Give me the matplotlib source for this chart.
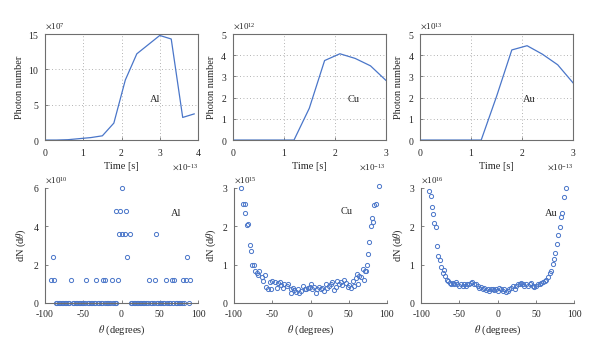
import matplotlib
matplotlib.use("Agg")
import matplotlib.pyplot as plt
from matplotlib.ticker import ScalarFormatter

plt.rcParams['font.family'] = ['Liberation Serif', 'DejaVu Serif']
plt.rcParams['mathtext.fontset'] = 'stix'
plt.rcParams['axes.unicode_minus'] = False

# ---------------- data ----------------
# top row: photon number vs time (s)
t_al = [0, 0.3e-13, 0.6e-13, 0.9e-13, 1.2e-13, 1.5e-13, 1.8e-13, 2.1e-13, 2.4e-13,
        2.7e-13, 3.0e-13, 3.3e-13, 3.6e-13, 3.9e-13]
n_al = [0, 0, 0.05e7, 0.2e7, 0.35e7, 0.6e7, 2.4e7, 8.5e7, 12.2e7, 13.5e7, 14.8e7,
        14.3e7, 3.2e7, 3.7e7]

t_cu = [0, 0.3e-13, 0.6e-13, 0.9e-13, 1.2e-13, 1.5e-13, 1.8e-13, 2.1e-13, 2.4e-13,
        2.7e-13, 3.0e-13]
n_cu = [0, 0, 0, 0, 0, 1.5e12, 3.75e12, 4.07e12, 3.85e12, 3.5e12, 2.82e12]

t_au = [0, 0.3e-13, 0.6e-13, 0.9e-13, 1.2e-13, 1.5e-13, 1.8e-13, 2.1e-13, 2.4e-13,
        2.7e-13, 3.0e-13]
n_au = [0, 0, 0, 0, 0, 2.05e13, 4.25e13, 4.45e13, 4.05e13, 3.55e13, 2.7e13]

# bottom row: angular distribution dN(dtheta)
th_al = [-92, -88, -90, -66, -46, -33, -24, -21, -13, -5, -7.5, -2, 0, -3.5, 1.3, 4,
         5.7, 7.5, 11.5, 36.5, 44, 45, 58, 66, 69, 80, 84, 86, 90,
         -86, -84, -82, -80, -78, -76, -74, -72, -70, -68, -64, -62, -60, -58, -56,
         -54, -52, -50, -48, -44, -42, -40, -38, -36, -34, -31, -29, -27, -25, -22,
         -19, -17, -15, -11, -9, -7, 12, 14, 16, 18, 20, 22, 24, 26, 28, 30, 32, 34,
         38, 40, 42, 46, 48, 50, 52, 54, 56, 60, 62, 64, 67, 71, 73, 75, 77, 79, 82, 88]
dn_al = [1.2, 1.2, 2.4, 1.2, 1.2, 1.2, 1.2, 1.2, 1.2, 1.2, 4.8, 4.8, 6.0, 3.6, 3.6, 3.6,
         4.8, 2.4, 3.6, 1.2, 1.2, 3.6, 1.2, 1.2, 1.2, 1.2, 1.2, 2.4, 1.2,
         0, 0, 0, 0, 0, 0, 0, 0, 0, 0, 0, 0, 0, 0, 0,
         0, 0, 0, 0, 0, 0, 0, 0, 0, 0, 0, 0, 0, 0, 0,
         0, 0, 0, 0, 0, 0, 0, 0, 0, 0, 0, 0, 0, 0, 0, 0, 0, 0,
         0, 0, 0, 0, 0, 0, 0, 0, 0, 0, 0, 0, 0, 0, 0, 0, 0, 0, 0, 0]
dn_al = [v * 1e10 for v in dn_al]

th_cu = [-90.3, -88, -86, -85, -83, -81.5, -79, -78, -76, -73.5, -72.7, -70.5, -68, -67,
         -64, -62, -59.5, -58, -56, -53, -50, -51, -44, -46, -43, -40, -38, -36.6, -34,
         -31, -29, -26, -25, -23, -21, -19, -16, -14.5, -12, -10, -7.5, -5.7, -3, -1.3,
         0, 2.2, 4.4, 6.6, 8.8, 11, 13.2, 15.4, 17.6, 19.8, 22, 24, 26.4, 28.6, 30.8, 33,
         35, 37.4, 39.6, 41.8, 44, 46, 48.5, 50.7, 52.9, 55, 57, 59.5, 60.8, 62.6, 64, 66,
         68, 69.6, 71.4, 72.7, 74, 75.8, 77, 79, 80.6, 81.5, 82.8, 85, 89]
dn_cu = [3.0, 2.57, 2.59, 2.33, 2.02, 2.06, 1.51, 1.34, 0.99, 0.99, 0.83, 0.77, 0.72, 0.83,
         0.68, 0.57, 0.72, 0.42, 0.35, 0.55, 0.57, 0.37, 0.39, 0.55, 0.51, 0.55, 0.46, 0.39,
         0.48, 0.44, 0.48, 0.26, 0.37, 0.39, 0.33, 0.28, 0.37, 0.25, 0.31, 0.44, 0.37, 0.35,
         0.39, 0.42, 0.48, 0.37, 0.42, 0.26, 0.37, 0.42, 0.35, 0.39, 0.31, 0.48, 0.39, 0.44,
         0.48, 0.54, 0.33, 0.42, 0.57, 0.48, 0.54, 0.46, 0.61, 0.51, 0.42, 0.46, 0.39, 0.57,
         0.44, 0.66, 0.76, 0.48, 0.70, 0.68, 0.89, 0.61, 0.83, 0.83, 0.98, 1.27, 1.6, 2.0,
         2.2, 2.1, 2.56, 2.59, 3.05]
dn_cu = [v * 1e15 for v in dn_cu]

th_au = [-90, -87.7, -86.4, -84, -83, -81, -79, -77.6, -75.4, -74, -72, -70, -69,
         -66.7, -65, -63, -61, -59, -57, -55, -52.6, -50.4, -48, -46, -44, -41.7, -39.5,
         -37, -35, -33, -30.7, -28.5, -26, -24, -22, -19.7, -17.5, -15.4, -13, -11, -8.8,
         -6.6, -4.4, -2.2, 0, 2.2, 4.4, 6.6, 8.8, 11, 13, 15.4, 17.5, 19.7, 22, 24, 26,
         28.5, 30.7, 33, 35, 37, 39.5, 41.7, 44, 46, 48, 50, 52.6, 55, 57, 59, 61.4, 63.6,
         65.8, 68, 70, 72.4, 73.7, 75.4, 77, 79, 81, 82.5, 84, 86.4, 89.5]
dn_au = [2.92, 2.78, 2.49, 2.32, 2.07, 1.97, 1.49, 1.23, 1.11, 0.93, 0.78, 0.86, 0.69,
         0.61, 0.56, 0.52, 0.50, 0.52, 0.48, 0.54, 0.48, 0.43, 0.48, 0.45, 0.48, 0.45, 0.48,
         0.50, 0.52, 0.54, 0.50, 0.48, 0.43, 0.39, 0.41, 0.36, 0.39, 0.33, 0.36, 0.30, 0.35,
         0.36, 0.33, 0.36, 0.30, 0.39, 0.35, 0.30, 0.36, 0.28, 0.30, 0.36, 0.39, 0.43, 0.36,
         0.43, 0.48, 0.50, 0.52, 0.48, 0.43, 0.48, 0.45, 0.50, 0.52, 0.45, 0.41, 0.45, 0.48,
         0.50, 0.52, 0.54, 0.56, 0.61, 0.67, 0.78, 0.82, 1.02, 1.14, 1.30, 1.54, 1.77, 1.97,
         2.23, 2.35, 2.75, 3.0]
dn_au = [v * 1e16 for v in dn_au]

labels = ["Al", "Cu", "Au"]

# ---------------- style ----------------
BLUE = '#4a76c9'
SPINE = '#6e6e6e'
TXT = '#262626'
FS = 7

fig = plt.figure(figsize=(6.0, 3.51), dpi=100)


def fmt(ax, axis, order):
    f = ScalarFormatter(useMathText=True)
    f.set_powerlimits((order, order))
    getattr(ax, axis).set_major_formatter(f)


def style(ax, box):
    for s in ax.spines.values():
        s.set_color(SPINE)
        s.set_linewidth(0.8)
    if not box:
        ax.spines['top'].set_visible(False)
        ax.spines['right'].set_visible(False)
    ax.tick_params(direction='in', length=2.5, width=0.6, colors=SPINE,
                   labelcolor=TXT, labelsize=FS, top=False, right=False)
    ax.tick_params(axis='x', pad=5)
    ax.tick_params(axis='y', pad=4)
    for a in (ax.xaxis, ax.yaxis):
        a.get_offset_text().set_fontsize(FS - 0.5)
        a.get_offset_text().set_color(TXT)


# top row
top_left = [0.075, 0.388, 0.700]
top_data = [(t_al, n_al, 4e-13, 15e7, [0, 5e7, 10e7, 15e7], [0, 1e-13, 2e-13, 3e-13, 4e-13],
             (2.87e-13, 5.7e7), 7),
            (t_cu, n_cu, 3e-13, 5e12, [0, 1e12, 2e12, 3e12, 4e12, 5e12],
             [0, 1e-13, 2e-13, 3e-13], (2.37e-13, 1.9e12), 12),
            (t_au, n_au, 3e-13, 5e13, [0, 1e13, 2e13, 3e13, 4e13, 5e13],
             [0, 1e-13, 2e-13, 3e-13], (2.14e-13, 1.9e13), 13)]
for left, (t, n, xmax, ymax, yt, xt, lp, yo), lab in zip(top_left, top_data, labels):
    ax = fig.add_axes([left, 0.601, 0.255, 0.302])
    ax.plot(t, n, color=BLUE, lw=0.9)
    ax.set_xlim(0, xmax)
    ax.set_ylim(0, ymax)
    ax.set_xticks(xt)
    ax.set_yticks(yt)
    fmt(ax, 'xaxis', -13)
    fmt(ax, 'yaxis', yo)
    ax.grid(True, linestyle=(0, (1, 3)), color='#9a9a9a', lw=0.6)
    style(ax, True)
    ax.set_xlabel("Time [s]", fontsize=FS + 0.5, color=TXT, labelpad=3)
    ax.set_ylabel("Photon number", fontsize=FS + 0.5, color=TXT, labelpad=3)
    ax.text(lp[0], lp[1], lab, fontsize=FS + 0.5, color=TXT, ha='center', va='center')

# bottom row
bot_left = [0.075, 0.390, 0.702]
bot_data = [(th_al, dn_al, 6e10, [0, 2e10, 4e10, 6e10], (71, 4.65e10), 10),
            (th_cu, dn_cu, 3e15, [0, 1e15, 2e15, 3e15], (47, 2.37e15), 15),
            (th_au, dn_au, 3e16, [0, 1e16, 2e16, 3e16], (70, 2.33e16), 16)]
for left, (th, dn, ymax, yt, lp, yo), lab in zip(bot_left, bot_data, labels):
    ax = fig.add_axes([left, 0.137, 0.255, 0.328])
    ax.plot(th, dn, linestyle='none', marker='o', markersize=3.0, markerfacecolor='none',
            markeredgecolor=BLUE, markeredgewidth=0.7, clip_on=False)
    ax.set_xlim(-100, 100)
    ax.set_ylim(0, ymax)
    ax.set_xticks([-100, -50, 0, 50, 100])
    ax.set_yticks(yt)
    fmt(ax, 'yaxis', yo)
    style(ax, False)
    ax.set_xlabel(r"$\theta$ (degrees)", fontsize=FS + 0.5, color=TXT, labelpad=3)
    ax.set_ylabel(r"dN (d$\theta$)", fontsize=FS + 0.5, color=TXT, labelpad=3)
    ax.text(lp[0], lp[1], lab, fontsize=FS + 0.5, color=TXT, ha='center', va='center')

fig.savefig("out.png", dpi=100)
